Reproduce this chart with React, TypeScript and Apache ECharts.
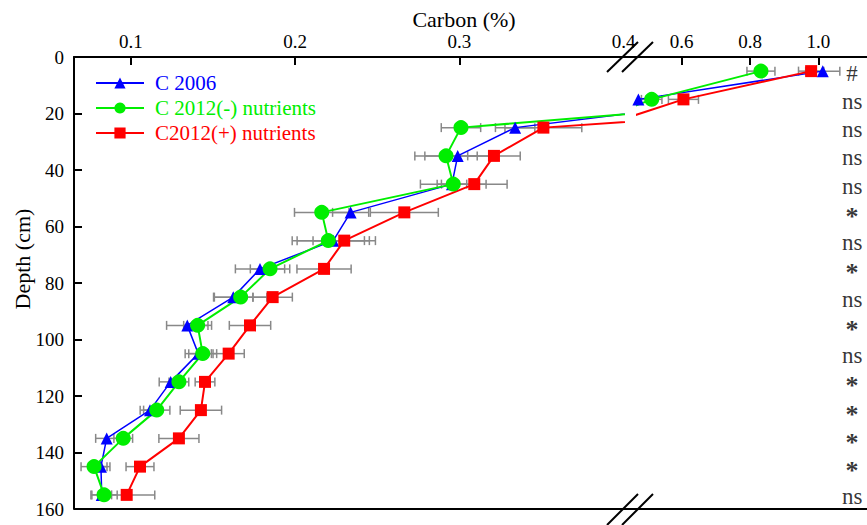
import React, { useEffect, useRef } from "react";
import * as echarts from "echarts";

// Depth (cm) of each sampled layer (mid-points)
const depths = [5, 15, 25, 35, 45, 55, 65, 75, 85, 95, 105, 115, 125, 135, 145, 155];

// Carbon (%) means
const c2006 = [1.013, 0.473, 0.334, 0.299, 0.2955, 0.2338, 0.2232, 0.1786, 0.1623, 0.1343, 0.141, 0.1242, 0.1116, 0.0852, 0.0817, 0.0822];
const c2012Minus = [0.832, 0.512, 0.301, 0.2919, 0.2963, 0.2162, 0.2202, 0.1847, 0.1668, 0.1406, 0.1437, 0.1292, 0.1157, 0.0953, 0.0775, 0.0836];
const c2012Plus = [0.979, 0.605, 0.3512, 0.3211, 0.3091, 0.2665, 0.2299, 0.2176, 0.1863, 0.1725, 0.1595, 0.1451, 0.1426, 0.1292, 0.1055, 0.0974];

// Error (half-width of error bars)
const c2006Err = [0.05, 0.04, 0.012, 0.02, 0.009, 0.011, 0.022, 0.015, 0.012, 0.0126, 0.008, 0.007, 0.006, 0.0067, 0.0055, 0.006];
const c2012MinusErr = [0.041, 0.03, 0.012, 0.019, 0.02, 0.0166, 0.022, 0.012, 0.016, 0.0085, 0.0085, 0.006, 0.008, 0.0057, 0.0079, 0.008];
const c2012PlusErr = [0.037, 0.044, 0.0234, 0.016, 0.02, 0.0207, 0.019, 0.0165, 0.012, 0.0126, 0.0095, 0.006, 0.0126, 0.0122, 0.0085, 0.0171];

// Significance marks per depth
const significance = ["#", "ns", "ns", "ns", "ns", "*", "ns", "*", "ns", "*", "ns", "*", "*", "*", "*", "ns"];

// Axis ticks
const leftTicks = [0.1, 0.2, 0.3];
const leftLabels = [0.1, 0.2, 0.3, 0.4];
const rightTicks = [0.6, 0.8, 1.0];
const depthTicks = [0, 20, 40, 60, 80, 100, 120, 140, 160];

const FONT = "Liberation Serif";
const BREAK = 0.4;
const SIG_X = 1.099;

const SERIES = [
  { name: "C 2006", values: c2006, errors: c2006Err, color: "#0000ff", symbol: "triangle", size: 12, width: 1.5 },
  { name: "C 2012(-) nutrients", values: c2012Minus, errors: c2012MinusErr, color: "#00ee00", symbol: "circle", size: 15, width: 2 },
  { name: "C2012(+) nutrients", values: c2012Plus, errors: c2012PlusErr, color: "#ff0000", symbol: "rect", size: 12, width: 2 },
];

export default function App() {
  const ref = useRef<HTMLDivElement>(null);
  useEffect(() => {
    document.body.style.margin = "0";
    const chart = echarts.init(ref.current!, null, { renderer: "svg" });

    const series: any[] = [];
    [0, 1].forEach((g) => {
      SERIES.forEach((s) => {
        const rows = depths
          .map((d, i) => [s.values[i], s.errors[i], d])
          .filter((r) => (g === 0 ? r[0] <= BREAK : r[0] > BREAK));
        series.push({
          type: "custom",
          name: "err " + s.name,
          xAxisIndex: g,
          yAxisIndex: g,
          clip: true,
          silent: true,
          z: 2,
          encode: { x: 0, y: 2 },
          data: rows,
          renderItem: (params: any, api: any) => {
            const v = api.value(0);
            const e = api.value(1);
            const d = api.value(2);
            const p1 = api.coord([v - e, d]);
            const p2 = api.coord([v + e, d]);
            const h = 4.5;
            const st = { stroke: "#888888", lineWidth: 1.5 };
            return {
              type: "group",
              children: [
                { type: "line", shape: { x1: p1[0], y1: p1[1], x2: p2[0], y2: p2[1] }, style: st },
                { type: "line", shape: { x1: p1[0], y1: p1[1] - h, x2: p1[0], y2: p1[1] + h }, style: st },
                { type: "line", shape: { x1: p2[0], y1: p2[1] - h, x2: p2[0], y2: p2[1] + h }, style: st },
              ],
            };
          },
        });
      });
      SERIES.forEach((s) => {
        series.push({
          type: "line",
          name: s.name,
          xAxisIndex: g,
          yAxisIndex: g,
          clip: true,
          z: 3,
          symbol: s.symbol,
          symbolSize: s.size,
          showAllSymbol: true,
          lineStyle: { color: s.color, width: s.width },
          itemStyle: { color: s.color },
          data: depths.map((d, i) => [s.values[i], d]),
        });
      });
    });

    series.push({
      type: "scatter",
      name: "significance",
      xAxisIndex: 1,
      yAxisIndex: 1,
      silent: true,
      symbolSize: 1,
      itemStyle: { color: "rgba(0,0,0,0)" },
      z: 4,
      data: depths.map((d, i) => ({
        value: [SIG_X, d],
        label:
          significance[i] === "*"
            ? { fontSize: 26, lineHeight: 16, fontWeight: "bold", offset: [0, 4] }
            : { fontSize: 23, lineHeight: 22, offset: [0, 2] },
      })),
      label: {
        show: true,
        position: "inside",
        color: "#000",
        fontFamily: FONT,
        fontSize: 23,
        formatter: (p: any) => significance[p.dataIndex],
      },
    });

    const axisLineStyle = { color: "#000", width: 2 };

    const option: any = {
      animation: false,
      backgroundColor: "#fff",
      textStyle: { fontFamily: FONT },
      grid: [
        { left: 74, top: 57, width: 549.5, height: 452 },
        { left: 637, top: 57, width: 230, height: 452 },
      ],
      xAxis: [
        {
          type: "value",
          gridIndex: 0,
          position: "top",
          min: 0.0653,
          max: 0.4,
          splitLine: { show: false },
          axisLine: { show: true, lineStyle: axisLineStyle },
          axisTick: { show: true, inside: true, length: 8, lineStyle: { color: "#000", width: 2 }, customValues: leftTicks },
          axisLabel: {
            customValues: leftLabels,
            color: "#000",
            fontFamily: FONT,
            fontSize: 19,
            margin: 6,
            formatter: (v: number) => v.toFixed(1),
          },
        },
        {
          type: "value",
          gridIndex: 1,
          position: "top",
          min: 0.469,
          max: 1.1426,
          splitLine: { show: false },
          axisLine: { show: true, lineStyle: axisLineStyle },
          axisTick: { show: true, inside: true, length: 8, lineStyle: { color: "#000", width: 2 }, customValues: rightTicks },
          axisLabel: {
            customValues: rightTicks,
            color: "#000",
            fontFamily: FONT,
            fontSize: 19,
            margin: 6,
            formatter: (v: number) => v.toFixed(1),
          },
        },
      ],
      yAxis: [
        {
          type: "value",
          gridIndex: 0,
          inverse: true,
          min: 0,
          max: 160,
          interval: 20,
          splitLine: { show: false },
          axisLine: { show: true, lineStyle: axisLineStyle },
          axisTick: { show: true, inside: true, length: 8, lineStyle: { color: "#000", width: 2 }, customValues: depthTicks },
          axisLabel: { color: "#000", fontFamily: FONT, fontSize: 19, margin: 10 },
        },
        {
          type: "value",
          gridIndex: 1,
          inverse: true,
          min: 0,
          max: 160,
          interval: 20,
          show: false,
          splitLine: { show: false },
        },
      ],
      legend: {
        orient: "vertical",
        left: 95,
        top: 71,
        padding: 0,
        itemWidth: 48,
        itemHeight: 14,
        itemGap: 1,
        selectedMode: false,
        textStyle: { fontFamily: FONT, fontSize: 21, lineHeight: 24, padding: [0, 0, 0, 6] },
        data: SERIES.map((s) => ({ name: s.name, textStyle: { color: s.color } })),
      },
      graphic: [
        {
          type: "text",
          x: 464,
          y: 19,
          style: { text: "Carbon (%)", fontFamily: FONT, fontSize: 22, fill: "#000", align: "center", verticalAlign: "middle" },
        },
        {
          type: "text",
          x: 22,
          y: 259,
          rotation: Math.PI / 2,
          style: { text: "Depth (cm)", fontFamily: FONT, fontSize: 22, fill: "#000", align: "center", verticalAlign: "middle" },
        },
        { type: "line", shape: { x1: 622, y1: 57, x2: 638, y2: 57 }, style: { stroke: "#000", lineWidth: 2 } },
        { type: "line", shape: { x1: 74, y1: 509, x2: 867, y2: 509 }, style: { stroke: "#000", lineWidth: 2 } },
        { type: "line", shape: { x1: 607, y1: 72, x2: 638, y2: 42 }, style: { stroke: "#000", lineWidth: 2 } },
        { type: "line", shape: { x1: 622, y1: 72, x2: 653, y2: 42 }, style: { stroke: "#000", lineWidth: 2 } },
        { type: "line", shape: { x1: 607, y1: 525, x2: 638, y2: 494 }, style: { stroke: "#000", lineWidth: 2 } },
        { type: "line", shape: { x1: 622, y1: 525, x2: 653, y2: 494 }, style: { stroke: "#000", lineWidth: 2 } },
      ],
      series,
    };

    chart.setOption(option);
    return () => chart.dispose();
  }, []);
  return <div ref={ref} style={{ width: 867, height: 525 }} />;
}
